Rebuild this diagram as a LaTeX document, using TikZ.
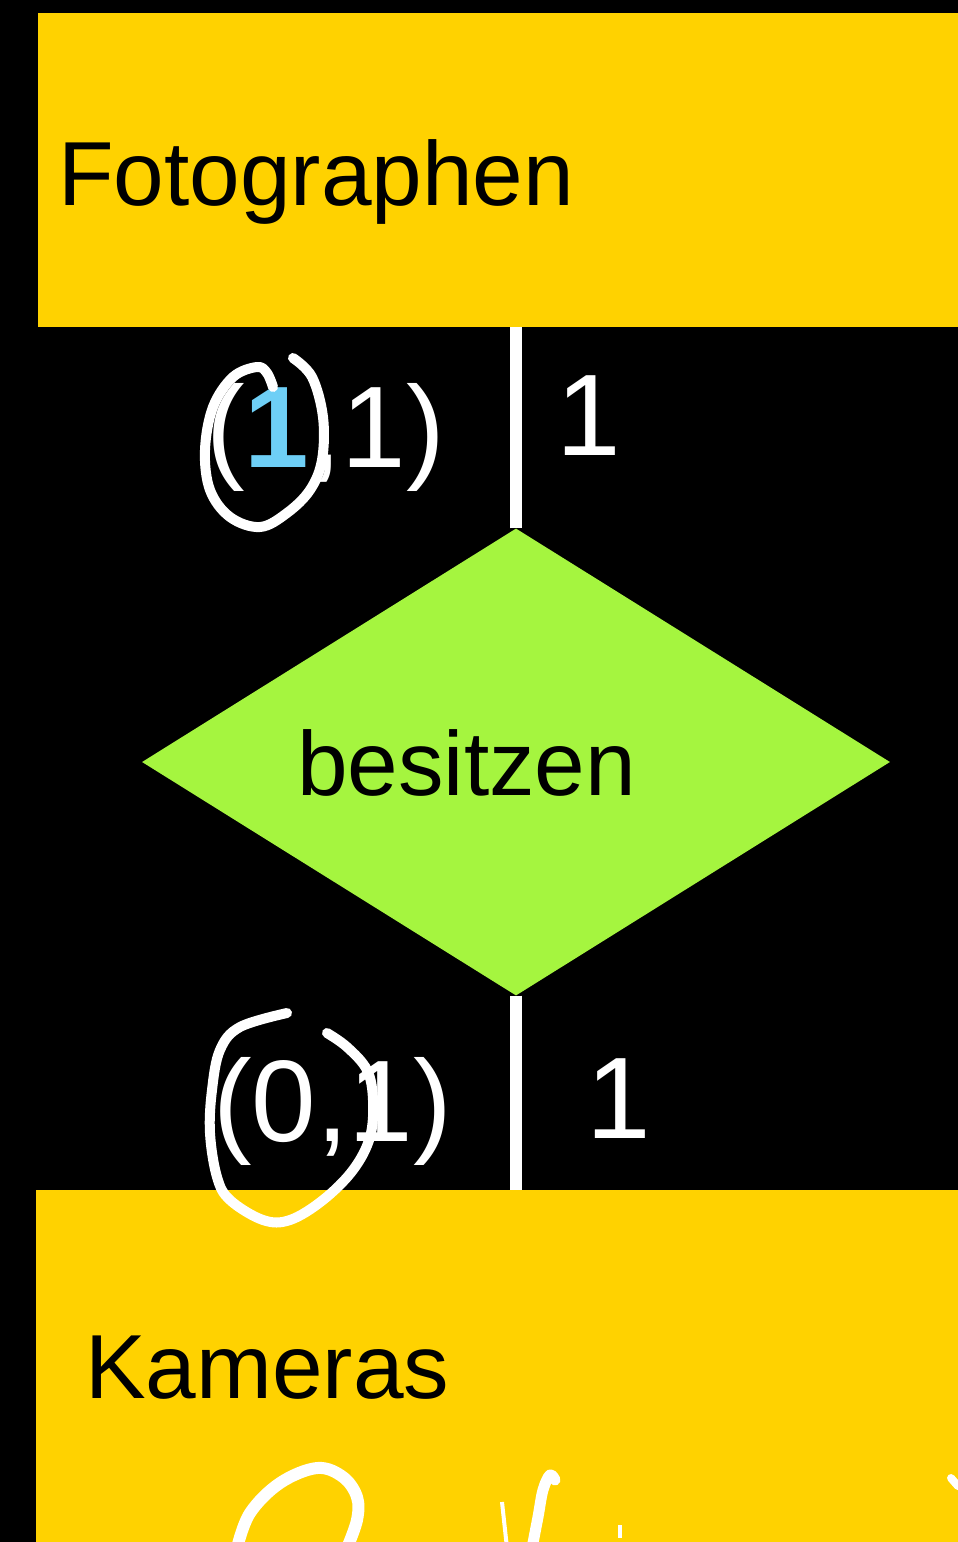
\documentclass[tikz,border=0pt]{standalone}
\usepackage{fontspec}
\setmainfont{Liberation Sans}
\usetikzlibrary{shapes.geometric}
\definecolor{boxyellow}{HTML}{FFD200}
\definecolor{relgreen}{HTML}{A5F53F}
\definecolor{penblue}{HTML}{6ECFF6}
\tikzset{
  entity/.style={rectangle, fill=boxyellow, inner sep=0pt, anchor=north west, minimum width=940pt},
  relation/.style={diamond, fill=relgreen, inner sep=0pt, minimum width=748pt, minimum height=467pt},
  bigtext/.style={anchor=base west, inner sep=0pt, text=black, font=\fontsize{91}{108}\selectfont},
  cardtext/.style={anchor=base west, inner sep=0pt, text=white, font=\fontsize{116}{130}\selectfont},
  link/.style={draw=white, line width=12pt},
  pen/.style={draw=white, line width=10pt, line cap=round, line join=round}
}
\begin{document}
\begin{tikzpicture}[x=1pt,y=-1pt]
\useasboundingbox (0,0) rectangle (958,1542);
\clip (0,0) rectangle (958,1542);
\fill[black] (0,0) rectangle (958,1542);

% entities and relation
\node[entity, minimum height=314pt] (foto) at (38,13) {};
\node[entity, minimum height=400pt] (kam) at (36,1190) {};
\node[relation] (rel) at (516,762) {};

% connectors
\draw[link] (rel.north) -- (rel.north |- foto.south);
\draw[link] (rel.south) -- (rel.south |- kam.north);

% texts
\node[bigtext] (tfoto) at (58,205) {Fotographen};
\node[bigtext] (tkam) at (85,1398) {Kameras};
\node[bigtext] (trel) at (297,795) {besitzen};

\node[cardtext] (c1) at (206,467) {(\textcolor{penblue}{\bfseries 1},1)};
\node[cardtext] (c2) at (556,455) {1};
\node[cardtext] (c3) at (213,1141) {(0,1)};
\node[cardtext] (c4) at (586,1138) {1};

% handwritten loops
\draw[pen] plot[smooth, tension=0.6] coordinates {(273,387) (267,373) (257,367) (233,377) (213,407) (205,450) (210,490) (230,517) (260,527) (287,513) (310,490) (322,460) (323,417) (312,377) (293,358)};
\draw[pen] plot[smooth, tension=0.6] coordinates {(287,1013) (240,1027) (220,1050) (212,1090) (210,1133) (217,1177) (230,1200) (263,1220) (290,1220) (323,1200) (353,1170) (370,1137) (373,1100) (367,1070) (347,1047) (327,1033)};

% handwriting at the bottom
\draw[pen, line width=12pt] plot[smooth, tension=0.6] coordinates {(237,1548) (250,1513) (280,1483) (317,1468) (343,1477) (357,1497) (357,1520) (347,1548)};
\draw[pen, line width=11pt] plot[smooth, tension=0.6] coordinates {(555,1480) (550,1475) (543,1490) (538,1517) (532,1548)};
\draw[pen, line width=4pt, line cap=butt] (502,1502) -- (507,1548);
\draw[pen, line width=4pt, line cap=butt] (620,1525) -- (620,1538);
\draw[pen, line width=8pt] (951,1478) -- (958,1486);
\end{tikzpicture}
\end{document}
